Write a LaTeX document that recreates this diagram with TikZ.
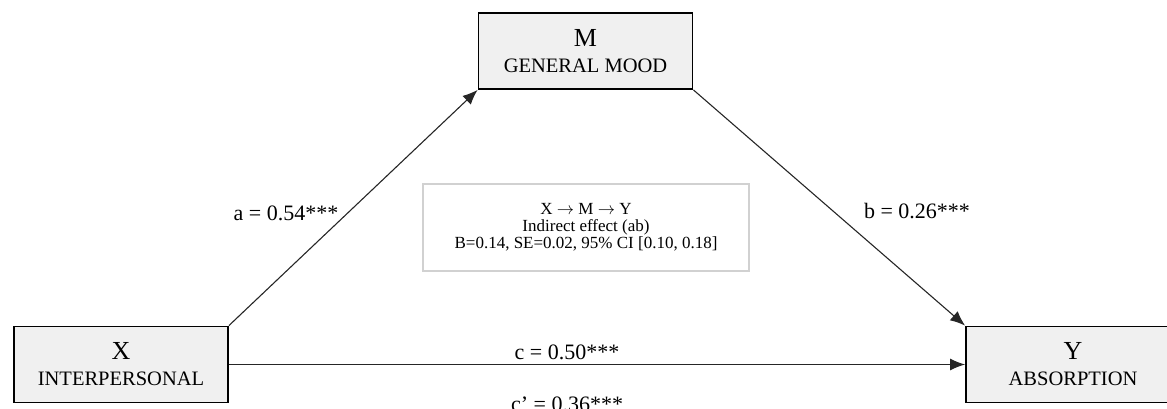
\documentclass[tikz,border=0pt]{standalone}
\usepackage{fontspec}
\setmainfont{Liberation Serif}
\usetikzlibrary{arrows.meta}

\tikzset{
  varbox/.style={draw=black, line width=1.8pt, fill=black!6, minimum width=214pt,
    minimum height=76pt, inner sep=0pt, align=center, font=\fontsize{20.5}{26}\selectfont},
  infobox/.style={draw=black!18, line width=1.8pt, fill=white, minimum width=326pt,
    minimum height=87pt, inner sep=0pt, align=center, font=\fontsize{17}{17}\selectfont},
  path/.style={line width=1.1pt, draw=black!85, -{Latex[length=15pt,width=12pt]}},
  coef/.style={font=\fontsize{22}{24}\selectfont}
}

\begin{document}
\begin{tikzpicture}[x=1pt, y=-1pt]
  \useasboundingbox (0,0) rectangle (1167,409);

  % variables
  \node[varbox] (x) at (121,364.5) {{\fontsize{26}{26}\selectfont X}\\INTERPERSONAL};
  \node[varbox] (m) at (585.5,51) {{\fontsize{26}{26}\selectfont M}\\GENERAL MOOD};
  \node[varbox] (y) at (1073,364.5) {{\fontsize{26}{26}\selectfont Y}\\ABSORPTION};

  % paths
  \draw[path] (x.north east) -- (m.south west);
  \draw[path] (m.south east) -- (y.north west);
  \draw[path] (x.east) -- (y.west);

  % coefficients
  \node[coef] (alab) at (286,213) {a = 0.54***};
  \node[coef] (blab) at (917,211) {b = 0.26***};
  \node[coef] (clab) at (567,352) {c = 0.50***};
  \node[coef] (cplab) at (567,404) {c’ = 0.36***};

  % indirect effect
  \node[infobox] (ie) at (586,227.5)
    {X $\rightarrow$ M $\rightarrow$ Y\\ Indirect effect (ab)\\ B=0.14, SE=0.02, 95\% CI [0.10, 0.18]};
\end{tikzpicture}
\end{document}
